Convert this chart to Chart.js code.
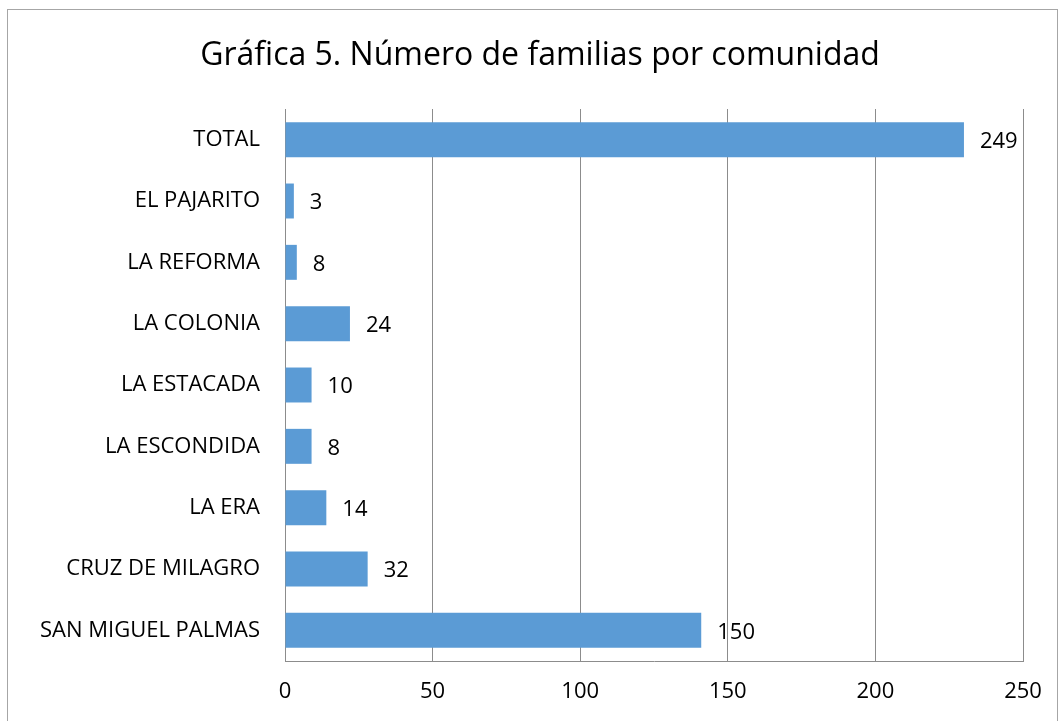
<!DOCTYPE html>
<html>
<head>
<meta charset="utf-8">
<script src="https://cdn.jsdelivr.net/npm/chart.js@4"></script>
<style>
  html, body { margin: 0; padding: 0; background: #fff; }
  #wrap { width: 1061px; height: 721px; }
</style>
</head>
<body>
<div id="wrap"><canvas id="chart" width="1061" height="721"></canvas></div>
<script>
// Gráfica 5: familias por comunidad
const chartTitle = "Gráfica 5. Número de familias por comunidad";
const communities = [
  "TOTAL", "EL PAJARITO", "LA REFORMA", "LA COLONIA", "LA ESTACADA",
  "LA ESCONDIDA", "LA ERA", "CRUZ DE MILAGRO", "SAN MIGUEL PALMAS"
];
// largo de las barras tal como se ve en la gráfica
const barValues = [230, 3, 4, 22, 9, 9, 14, 28, 141];
// etiquetas de datos escritas junto a cada barra
const labelValues = [249, 3, 8, 24, 10, 8, 14, 32, 150];
const xTicks = [0, 50, 100, 150, 200, 250];

const FONT = "'Open Sans', Lato, sans-serif";
const GRID = "#8c8c8c";

// marco exterior y título centrado sobre la hoja
const frame = {
  id: "frame",
  beforeDraw(chart) {
    const ctx = chart.ctx;
    ctx.save();
    ctx.fillStyle = "#fff";
    ctx.fillRect(0, 0, chart.width, chart.height);
    ctx.strokeStyle = "#a6a6a6";
    ctx.lineWidth = 1;
    ctx.strokeRect(7.5, 9.5, 1050, 730);
    ctx.font = "32px " + FONT;
    ctx.fillStyle = "#000";
    ctx.textAlign = "center";
    ctx.textBaseline = "alphabetic";
    ctx.fillText(chartTitle, 540, 65);
    ctx.restore();
  }
};

const valueLabels = {
  id: "valueLabels",
  afterDatasetsDraw(chart) {
    const ctx = chart.ctx;
    const meta = chart.getDatasetMeta(0);
    ctx.save();
    ctx.font = "22px " + FONT;
    ctx.fillStyle = "#000";
    ctx.textAlign = "left";
    ctx.textBaseline = "middle";
    meta.data.forEach((bar, i) => {
      ctx.fillText(String(labelValues[i]), bar.x + 16, bar.y + 2);
    });
    ctx.restore();
  }
};

new Chart(document.getElementById("chart"), {
  type: "bar",
  data: {
    labels: communities,
    datasets: [{
      data: barValues,
      backgroundColor: "#5B9BD5",
      borderWidth: 0,
      barPercentage: 0.57,
      categoryPercentage: 1
    }]
  },
  options: {
    indexAxis: "y",
    responsive: false,
    animation: false,
    layout: { padding: { top: 109, right: 38, bottom: 0, left: 0 } },
    plugins: {
      legend: { display: false },
      tooltip: { enabled: false },
      title: { display: false }
    },
    scales: {
      x: {
        min: 0,
        max: 250,
        afterBuildTicks: (s) => { s.ticks = xTicks.map((v) => ({ value: v })); },
        afterFit: (s) => { s.height = 60; },
        grid: { color: GRID, drawTicks: false },
        border: { color: GRID },
        ticks: { color: "#000", padding: 18, font: { family: FONT, size: 22 } }
      },
      y: {
        afterFit: (s) => { s.width = 285; },
        grid: { display: false, drawTicks: false },
        border: { color: GRID },
        ticks: { color: "#000", padding: 25, autoSkip: false, font: { family: FONT, size: 22 } }
      }
    }
  },
  plugins: [frame, valueLabels]
});
</script>
</body>
</html>
